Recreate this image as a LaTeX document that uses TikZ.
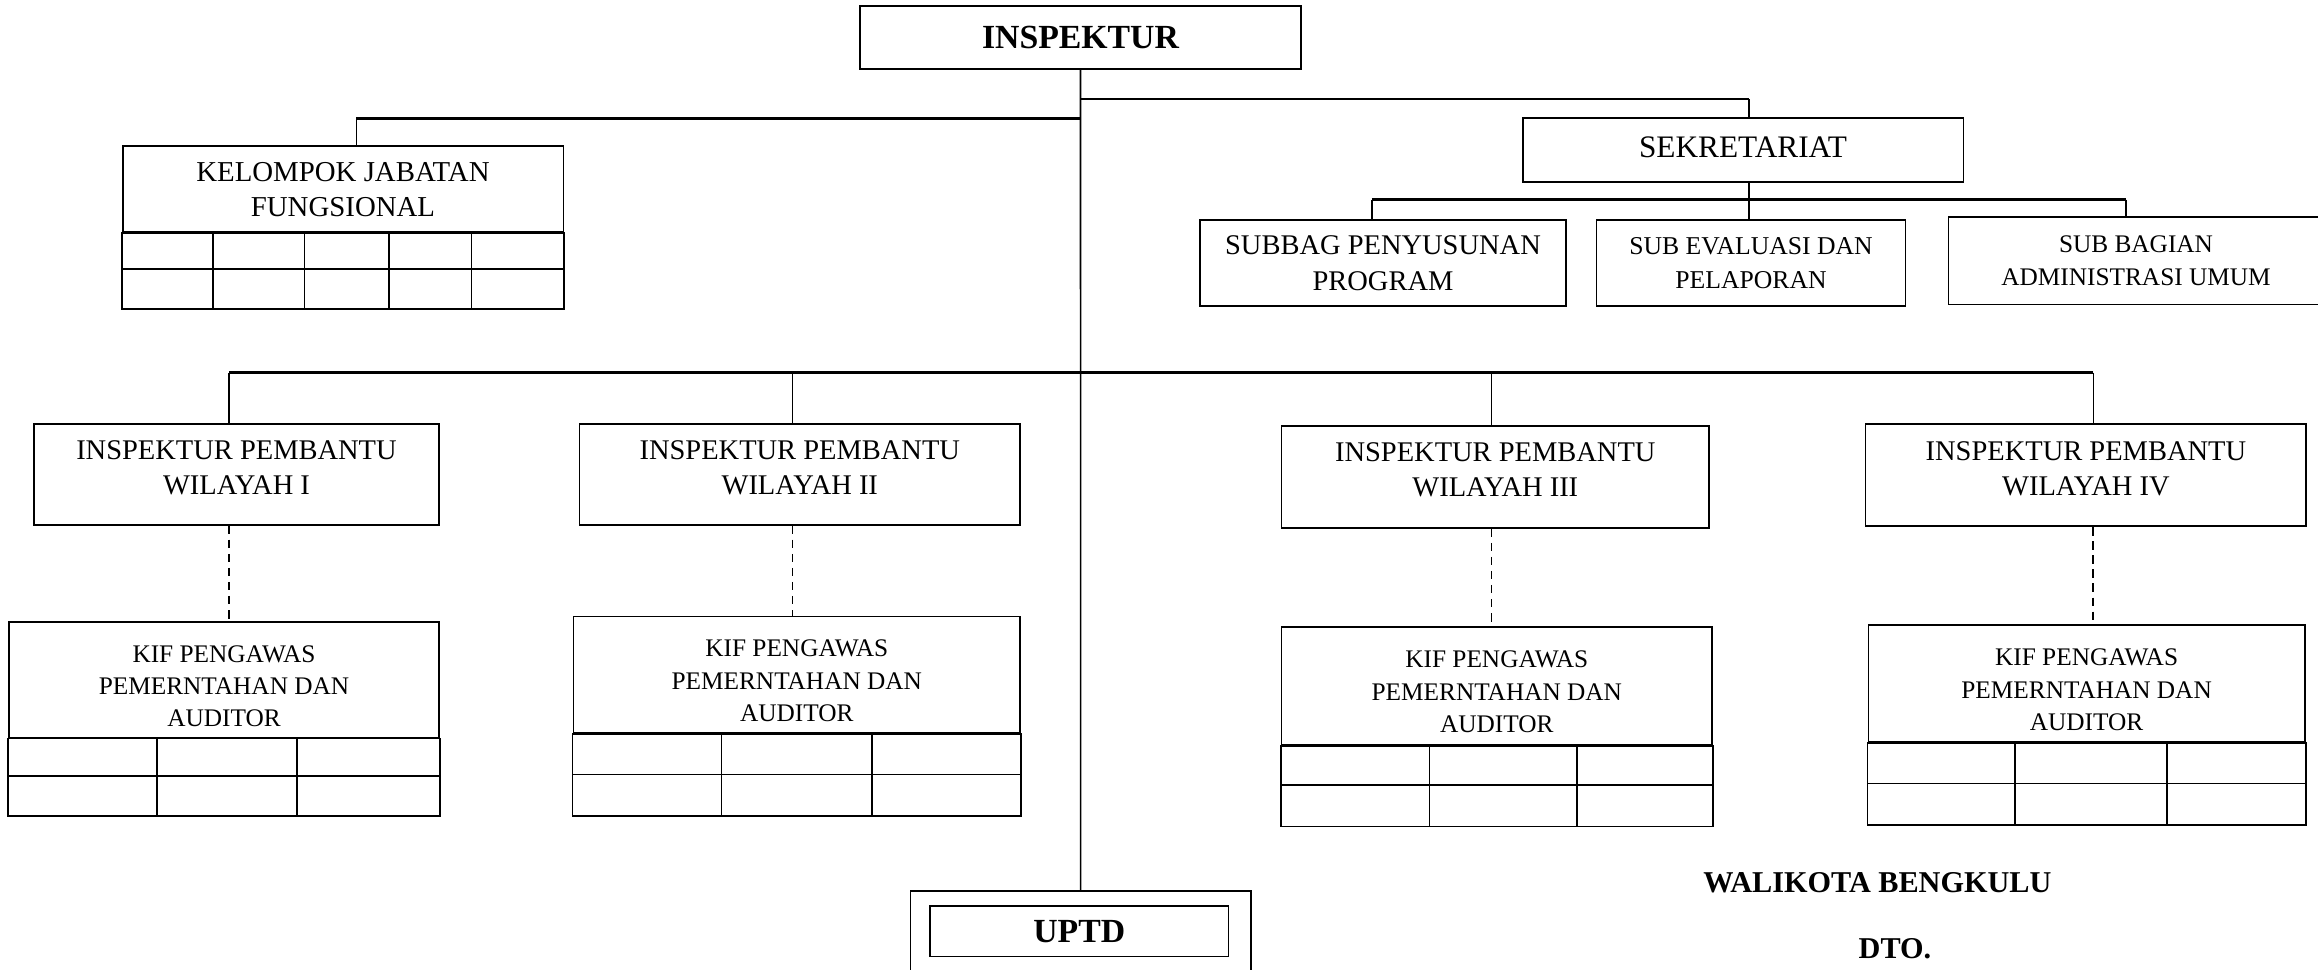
\documentclass[tikz,border=0pt]{standalone}
\usepackage{fontspec}
\setmainfont{Liberation Serif}
\usepackage{tikz}

\tikzset{
	box/.style={draw,line width=0.5pt,align=center,inner sep=0pt,font=\fontsize{8.1}{10}\selectfont},
	ipwbox/.style={box,text height=15.3pt,text depth=4pt},
	kif/.style={box,font=\fontsize{7.2}{9.2}\selectfont,text height=26.6pt,text depth=0pt},
	bar/.style={line width=0.7pt},
	link/.style={line width=0.45pt},
	dashlink/.style={line width=0.5pt,dash pattern=on 2.4pt off 1.6pt},
	cell/.style={line width=0.5pt}
}

\begin{document}
\begin{tikzpicture}[x=0.01cm,y=-0.01cm]
\clip (0,0) rectangle (2318,970);

% top
\node[box,minimum width=4.41cm,minimum height=0.63cm,font=\bfseries\fontsize{9.6}{11}\selectfont] (insp) at (1080.5,37.5) {INSPEKTUR};

% kelompok jabatan fungsional
\node[box,minimum width=4.405cm,minimum height=0.856cm,font=\fontsize{8.2}{10}\selectfont] (kjf) at (343,189.2) {KELOMPOK JABATAN\\FUNGSIONAL};
\draw[cell] (kjf.south west) rectangle (kjf.east |- 0,309);
\draw[cell] (kjf.west |- 0,269) -- (kjf.east |- 0,269);
\foreach \c in {212.9,304.5,388.8,471.6}
	\draw[cell] (kjf.south -| \c,0) -- (\c,309);

% sekretariat
\node[box,minimum width=4.405cm,minimum height=0.635cm,font=\fontsize{8.9}{10}\selectfont,text height=5.9pt,text depth=1.7pt] (sek) at (1743,150) {SEKRETARIAT};
\node[box,minimum width=3.651cm,minimum height=0.857cm] (sub1) at (1383,263.2) {SUBBAG PENYUSUNAN\\PROGRAM};
\node[box,minimum width=3.089cm,minimum height=0.857cm,font=\fontsize{7.3}{9.5}\selectfont] (sub2) at (1751,263.2) {SUB EVALUASI DAN\\PELAPORAN};
\node[box,minimum width=3.75cm,minimum height=0.872cm,font=\fontsize{7.2}{9.5}\selectfont] (sub3) at (2136,260.9) {SUB BAGIAN\\ADMINISTRASI UMUM};

% inspektur pembantu
\node[ipwbox,minimum width=4.05cm,minimum height=1.005cm] (ipw1) at (236.5,474.5) {INSPEKTUR PEMBANTU\\WILAYAH I};
\node[ipwbox,minimum width=4.405cm,minimum height=1.005cm] (ipw2) at (799.8,474.5) {INSPEKTUR PEMBANTU\\WILAYAH II};
\node[ipwbox,minimum width=4.272cm,minimum height=1.02cm] (ipw3) at (1495.3,476.8) {INSPEKTUR PEMBANTU\\WILAYAH III};
\node[ipwbox,minimum width=4.405cm,minimum height=1.02cm] (ipw4) at (2085.9,475.3) {INSPEKTUR PEMBANTU\\WILAYAH IV};

% kif pengawas
\node[kif,minimum width=4.301cm,minimum height=1.153cm] (kif1) at (224,680) {KIF PENGAWAS\\PEMERNTAHAN DAN\\AUDITOR};
\node[kif,minimum width=4.464cm,minimum height=1.167cm] (kif2) at (796.8,674.9) {KIF PENGAWAS\\PEMERNTAHAN DAN\\AUDITOR};
\node[kif,minimum width=4.302cm,minimum height=1.182cm] (kif3) at (1496.8,685.9) {KIF PENGAWAS\\PEMERNTAHAN DAN\\AUDITOR};
\node[kif,minimum width=4.36cm,minimum height=1.168cm] (kif4) at (2086.6,683.7) {KIF PENGAWAS\\PEMERNTAHAN DAN\\AUDITOR};
\foreach \n/\r/\b/\ca/\cb in {kif1/776.1/816/156.7/297.1,kif2/774.6/816/721.4/872.2,
		kif3/785/826.4/1429.5/1577.3,kif4/783.5/824.9/2015/2167.2}{
	\draw[cell] (\n.south west) rectangle (\n.east |- 0,\b);
	\draw[cell] (\n.west |- 0,\r) -- (\n.east |- 0,\r);
	\draw[cell] (\n.south -| \ca,0) -- (\ca,\b);
	\draw[cell] (\n.south -| \cb,0) -- (\cb,\b);
}

% uptd
\node[draw,line width=0.5pt,minimum width=3.4cm,minimum height=1.2cm] (uptdo) at (1080.6,951.4) {};
\node[box,minimum width=2.986cm,minimum height=0.503cm,font=\bfseries\fontsize{9.6}{11}\selectfont] (uptd) at (1079.2,931.4) {UPTD};

% signature
\node[font=\bfseries\fontsize{8.6}{10}\selectfont] (wali) at (1877.4,882.5) {WALIKOTA BENGKULU};
\node[font=\bfseries\fontsize{8.6}{10}\selectfont] (dto) at (1895,949) {DTO.};

% trunk
\draw[link] (insp.south) -- (uptdo.north);
\coordinate (tl) at (1080.6,118.3);
\coordinate (tr) at (1080.6,99);
\draw[bar] (tl) -- (356.3,118.3) coordinate (kl);
\draw[link] (kl) -- (kl |- kjf.north);
\draw[bar] (tr) -- (1748.8,99) coordinate (sr);
\draw[link] (sr) -- (sr |- sek.north);

% sekretariat branch
\coordinate (s1) at (1371.9,199.6);
\coordinate (s3) at (2125.8,199.6);
\draw[bar] (s1) -- (s3);
\draw[link] (s1) -- (s1 |- sub1.north);
\draw[link] (s3) -- (s3 |- sub3.north);
\draw[link] (sek.south -| sr) -- (sub2.north -| sr);

% main bar
\coordinate (b1) at (229.1,372.5);
\coordinate (b2) at (792.4,372.5);
\coordinate (b3) at (1491.6,372.5);
\coordinate (b4) at (2093.3,372.5);
\draw[bar] (b1) -- (b4);
\foreach \i in {1,2,3,4}{
	\draw[link] (b\i) -- (b\i |- ipw\i.north);
	\draw[dashlink] (b\i |- ipw\i.south) -- (b\i |- kif\i.north);
}

\end{tikzpicture}
\end{document}
